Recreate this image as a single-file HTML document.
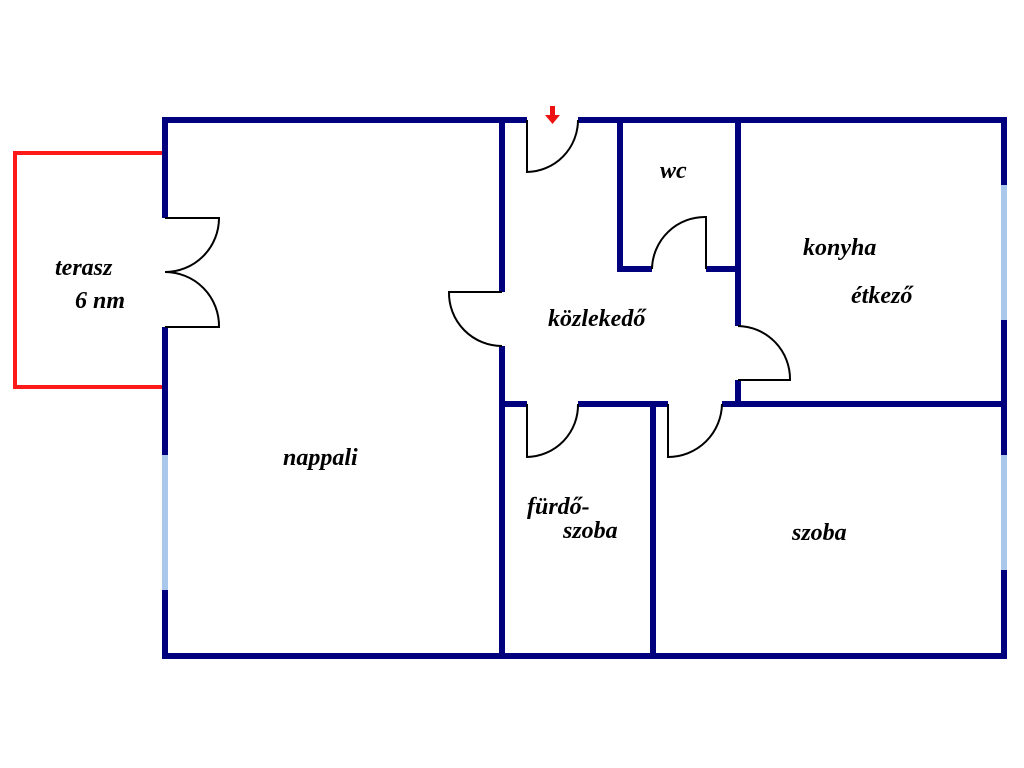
<!DOCTYPE html>
<html><head><style>body{margin:0;background:#fff}svg{display:block}</style></head><body>
<svg width="1024" height="768" xmlns="http://www.w3.org/2000/svg">
<rect width="1024" height="768" fill="#fff"/>
<g stroke="#ff1a1a" stroke-width="4" fill="none">
<polyline points="163,153 15,153 15,387 163,387"/>
</g>
<g stroke="#00007f" stroke-width="6" fill="none" stroke-linecap="butt">
<line x1="162" y1="120" x2="527" y2="120"/>
<line x1="578" y1="120" x2="1007" y2="120"/>
<line x1="162" y1="656" x2="1007" y2="656"/>
<line x1="165" y1="117" x2="165" y2="218"/>
<line x1="165" y1="327" x2="165" y2="455"/>
<line x1="165" y1="590" x2="165" y2="659"/>
<line x1="1004" y1="117" x2="1004" y2="185"/>
<line x1="1004" y1="320" x2="1004" y2="455"/>
<line x1="1004" y1="570" x2="1004" y2="659"/>
<line x1="502" y1="120" x2="502" y2="292"/>
<line x1="502" y1="346" x2="502" y2="656"/>
<line x1="620" y1="120" x2="620" y2="272"/>
<line x1="617" y1="269" x2="652" y2="269"/>
<line x1="706" y1="269" x2="741" y2="269"/>
<line x1="738" y1="120" x2="738" y2="326"/>
<line x1="738" y1="380" x2="738" y2="404"/>
<line x1="499" y1="404" x2="527" y2="404"/>
<line x1="578" y1="404" x2="668" y2="404"/>
<line x1="722" y1="404" x2="1004" y2="404"/>
<line x1="653" y1="404" x2="653" y2="656"/>
</g>
<g stroke="#a9c8ec" stroke-width="6">
<line x1="165" y1="455" x2="165" y2="590"/>
<line x1="1004" y1="185" x2="1004" y2="320"/>
<line x1="1004" y1="455" x2="1004" y2="570"/>
</g>
<g stroke="#000" stroke-width="2" fill="none">
<path d="M527,120 V172 A52,52 0 0 0 578,120"/>
<path d="M502,292 H449 A53,53 0 0 0 502,346"/>
<path d="M706,269 V217 A53,53 0 0 0 652,269"/>
<path d="M738,380 H790 A53,53 0 0 0 738,326"/>
<path d="M527,404 V457 A52,52 0 0 0 578,404"/>
<path d="M668,404 V457 A54,54 0 0 0 722,404"/>
<path d="M165,218 H219 A54,54 0 0 1 165,272"/>
<path d="M165,327 H219 A54,54 0 0 0 165,272"/>
</g>
<g fill="#ee1111">
<rect x="550" y="106" width="5" height="10"/>
<polygon points="545,115 560,115 552.5,124"/>
</g>
<g font-family="Liberation Serif, serif" font-style="italic" font-weight="bold" font-size="24" fill="#000">
<text x="55" y="275">terasz</text>
<text x="75" y="308">6 nm</text>
<text x="283" y="465">nappali</text>
<text x="548" y="326">közlekedő</text>
<text x="660" y="178">wc</text>
<text x="803" y="255">konyha</text>
<text x="851" y="303">étkező</text>
<text x="527" y="514">fürdő-</text>
<text x="563" y="538">szoba</text>
<text x="792" y="540">szoba</text>
</g>
</svg>
</body></html>
